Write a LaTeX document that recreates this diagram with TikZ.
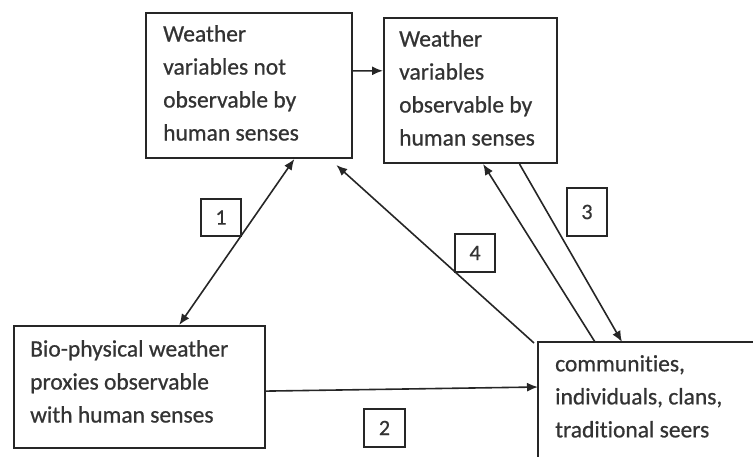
\documentclass[tikz,border=0pt]{standalone}
\usepackage{fontspec}
\setmainfont{Carlito}[Ligatures=NoCommon,UprightFeatures={FakeBold=0.7}]
\usetikzlibrary{arrows.meta,calc}
\definecolor{ink}{HTML}{262626}
\definecolor{txt}{HTML}{333333}
\begin{document}
\begin{tikzpicture}[x=1pt,y=-1pt,
  box/.style={draw=ink,line width=2pt,inner sep=0,anchor=north west},
  openbox/.style={inner sep=0,anchor=north west},
  edge/.style={draw=ink,line width=2pt},
  txtnode/.style={anchor=north west,inner sep=0,align=left,text=txt,font=\fontsize{23.5}{33}\selectfont},
  numbox/.style={draw=ink,line width=2pt,inner sep=0,text=txt,font=\fontsize{22}{26}\selectfont},
  arr/.style={draw=ink,line width=1.6pt,-{Latex[length=11pt,width=9pt]}},
  darr/.style={draw=ink,line width=1.6pt,{Latex[length=11pt,width=9pt]}-{Latex[length=11pt,width=9pt]}}]
\useasboundingbox (0,0) rectangle (753,456);
\node[box,minimum width=206pt,minimum height=145pt] (A) at (145,12) {};
\node[box,minimum width=173pt,minimum height=145pt] (B) at (383,17) {};
\node[box,minimum width=251pt,minimum height=122pt] (C) at (13,325) {};
\node[openbox,minimum width=260pt,minimum height=160pt] (D) at (538,342) {};
\draw[edge] (D.south west) -- (D.north west) -- (D.north east);
\node[txtnode] (At) at (163,25) {Weather\\variables not\\observable by\\human senses};
\node[txtnode] (Bt) at (399,30) {Weather\\variables\\observable by\\human senses};
\node[txtnode] (Ct) at (30,340) {Bio-physical weather\\proxies observable\\with human senses};
\node[txtnode] (Dt) at (555,355) {communities,\\individuals, clans,\\traditional seers};
\node[numbox,minimum width=40pt,minimum height=37pt] (n1) at (221,217.5) {1};
\node[numbox,minimum width=41pt,minimum height=38pt] (n2) at (384.5,428) {2};
\node[numbox,minimum width=40pt,minimum height=48pt] (n3) at (587,212) {3};
\node[numbox,minimum width=40pt,minimum height=38pt] (n4) at (475,253) {4};
\draw[arr] ($(A.north east)!0.4!(A.south east)$) -- ($(B.north west)!0.366!(B.south west)$);
\draw[darr] ($(A.south west)!0.718!(A.south east)$) -- ($(C.north west)!0.657!(C.north east)$);
\draw[arr] ($(C.north east)!0.533!(C.south east)$) -- ($(D.north west)+(0,45)$);
\draw[arr] ($(D.north west)+(57,0)$) -- ($(B.south west)!0.572!(B.south east)$);
\draw[arr] ($(B.south west)!0.78!(B.south east)$) -- ($(D.north west)+(84,0)$);
\draw[arr] ($(D.north west)+(-4,1)$) -- ($(A.south west)!0.92!(A.south east)+(0,6)$);
\end{tikzpicture}
\end{document}
